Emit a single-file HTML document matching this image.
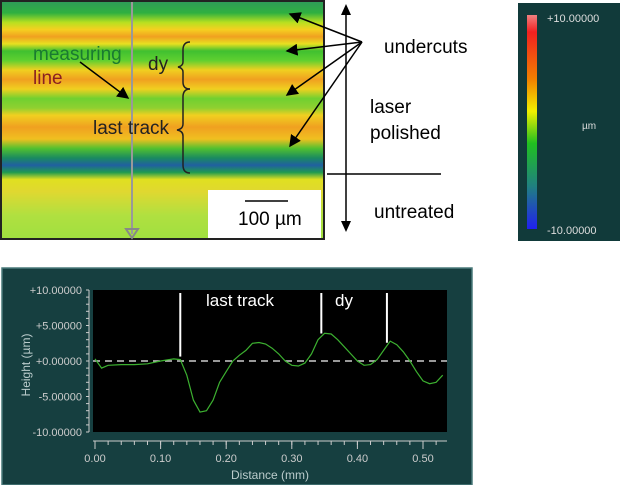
<!DOCTYPE html>
<html><head><meta charset="utf-8"><style>
html,body{margin:0;padding:0;background:#fff;width:623px;height:485px;overflow:hidden}
svg{display:block;font-family:"Liberation Sans",sans-serif}
</style></head><body>
<svg id="fig" width="623" height="485" viewBox="0 0 623 485">
<defs>
<linearGradient id="bands" x1="0" y1="0" x2="0" y2="1">
<stop offset="0" stop-color="#2f9a5a"/><stop offset="0.05" stop-color="#2fb040"/><stop offset="0.09" stop-color="#b8e020"/>
<stop offset="0.12" stop-color="#f5d020"/><stop offset="0.15" stop-color="#f0a020"/><stop offset="0.18" stop-color="#e8e020"/>
<stop offset="0.21" stop-color="#40c030"/><stop offset="0.25" stop-color="#60d030"/><stop offset="0.29" stop-color="#f0d020"/>
<stop offset="0.33" stop-color="#f0a020"/><stop offset="0.37" stop-color="#f0d020"/><stop offset="0.41" stop-color="#70d030"/>
<stop offset="0.45" stop-color="#90d030"/><stop offset="0.48" stop-color="#f0d020"/><stop offset="0.53" stop-color="#f0a020"/>
<stop offset="0.58" stop-color="#f0c020"/><stop offset="0.62" stop-color="#50c030"/><stop offset="0.66" stop-color="#1a8a60"/>
<stop offset="0.69" stop-color="#2060a0"/><stop offset="0.72" stop-color="#1f9a50"/><stop offset="0.75" stop-color="#e0e020"/>
<stop offset="0.8" stop-color="#e0d830"/><stop offset="0.9" stop-color="#b0e040"/><stop offset="1" stop-color="#a0e040"/>
</linearGradient>
<linearGradient id="cbar" x1="0" y1="0" x2="0" y2="1">
<stop offset="0" stop-color="#f08080"/><stop offset="0.08" stop-color="#f02020"/><stop offset="0.3" stop-color="#f08000"/>
<stop offset="0.45" stop-color="#f0f000"/><stop offset="0.6" stop-color="#20c020"/><stop offset="0.8" stop-color="#208080"/>
<stop offset="1" stop-color="#2020f0"/>
</linearGradient>
<marker id="ah" markerWidth="8" markerHeight="8" refX="7" refY="4" orient="auto"><path d="M0,0 L8,4 L0,8 z" fill="#000"/></marker>
</defs>

<g>
<rect x="1" y="1" width="323" height="238" fill="url(#bands)" stroke="#222" stroke-width="2"/>
<line x1="132" y1="2" x2="132" y2="234" stroke="#999" stroke-width="2"/>
<path d="M126,229 L138,229 L132,238 z" fill="none" stroke="#888" stroke-width="2"/>
<text x="33" y="60" font-size="19" fill="#1a7a30">measuring</text>
<text x="33" y="84" font-size="19" fill="#8a2020">line</text>
<line x1="80" y1="62" x2="128" y2="98" stroke="#000" stroke-width="1.5" marker-end="url(#ah)"/>
<text x="148" y="70" font-size="19" fill="#222">dy</text>
<text x="93" y="134" font-size="19" fill="#222">last track</text>
<path d="M190,42 Q183,42 183,50 L183,62 Q183,66 178,67 Q183,68 183,72 L183,82 Q183,89 190,89" fill="none" stroke="#222" stroke-width="1.5"/>
<path d="M190,89 Q183,89 183,97 L183,124 Q183,129 177,130 Q183,131 183,136 L183,165 Q183,173 190,173" fill="none" stroke="#222" stroke-width="1.5"/>
<rect x="208" y="190" width="113" height="48" fill="#fff"/>
<line x1="245" y1="201" x2="288" y2="201" stroke="#000" stroke-width="1.5"/>
<text x="238" y="225" font-size="19" fill="#000">100 µm</text>
</g>

<g>
<line x1="362" y1="42" x2="290" y2="14" stroke="#000" stroke-width="1.5" marker-end="url(#ah)"/>
<line x1="362" y1="42" x2="287" y2="51" stroke="#000" stroke-width="1.5" marker-end="url(#ah)"/>
<line x1="362" y1="42" x2="287" y2="95" stroke="#000" stroke-width="1.5" marker-end="url(#ah)"/>
<line x1="362" y1="42" x2="290" y2="146" stroke="#000" stroke-width="1.5" marker-end="url(#ah)"/>
<line x1="346" y1="14" x2="346" y2="222" stroke="#000" stroke-width="1.5"/>
<path d="M341,15 L346,4 L351,15 z" fill="#000"/><path d="M341,221 L346,232 L351,221 z" fill="#000"/>
<line x1="327" y1="174" x2="441" y2="174" stroke="#000" stroke-width="1.5"/>
<text x="384" y="53" font-size="19" fill="#000">undercuts</text>
<text x="370" y="113" font-size="19" fill="#000">laser</text>
<text x="370" y="139" font-size="19" fill="#000">polished</text>
<text x="374" y="218" font-size="19" fill="#000">untreated</text>
</g>

<g>
<rect x="518" y="3" width="102" height="238" fill="#113a3a"/>
<rect x="527" y="15" width="10" height="214" fill="url(#cbar)"/>
<text x="547" y="22" font-size="11" fill="#ddd">+10.00000</text>
<text x="582" y="129" font-size="10" fill="#ddd">µm</text>
<text x="547" y="234" font-size="11" fill="#ddd">-10.00000</text>
</g>

<g>
<rect x="2" y="268" width="470" height="217" fill="#163f40" stroke="#4a7a7a" stroke-width="1.5"/>
<rect x="93" y="290" width="354" height="142" fill="#000"/>
<g id="yax"></g>
<g id="xax"></g>
<text transform="translate(30,365) rotate(-90)" text-anchor="middle" font-size="12" fill="#bcc">Height (µm)</text>
<text x="270" y="479" text-anchor="middle" font-size="12" fill="#bcc">Distance (mm)</text>
<line id="zero" stroke="#ccc" stroke-width="1.5" stroke-dasharray="7,5"/>
<path id="curve" fill="none" stroke="#3cb030" stroke-width="1.2"/>
<g id="marks"></g>
<text x="206" y="306" font-size="17" fill="#fff">last track</text>
<text x="335" y="306" font-size="17" fill="#fff">dy</text>
</g>
</svg>
<script>
const xs=[0,0.01,0.02,0.04,0.06,0.08,0.10,0.12,0.13,0.14,0.15,0.16,0.17,0.18,0.19,0.20,0.21,0.22,0.23,0.24,0.25,0.26,0.27,0.28,0.29,0.30,0.31,0.32,0.33,0.34,0.35,0.36,0.37,0.38,0.39,0.40,0.41,0.42,0.43,0.44,0.45,0.46,0.47,0.48,0.49,0.50,0.51,0.52,0.53];
const ys=[0.3,-1,-0.6,-0.5,-0.5,-0.4,0,0.3,0.2,-2,-5.5,-7.2,-7,-5.5,-3,-1.5,0,0.8,1.5,2.5,2.6,2.4,1.8,1,0,-0.6,-0.7,-0.3,1,3,3.9,3.8,3,2,1,0,-0.6,-0.5,0.2,1.5,2.8,2.3,1.3,0,-1.5,-2.8,-3.2,-3,-2];
const yTicks=["+10.00000","+5.00000","+0.00000","-5.00000","-10.00000"];
const yTickVals=[10,5,0,-5,-10];
const xTickVals=[0,0.1,0.2,0.3,0.4,0.5];
const xTickLabels=["0.00","0.10","0.20","0.30","0.40","0.50"];
const markerXs=[0.13,0.345,0.445];
const X=v=>95+v*656, Y=v=>361-v*7.1;
const NS="http://www.w3.org/2000/svg";
function mk(t,a,p){const e=document.createElementNS(NS,t);for(const k in a)e.setAttribute(k,a[k]);p.appendChild(e);return e;}
const yax=document.getElementById('yax'),xax=document.getElementById('xax');
mk('line',{x1:89,y1:290,x2:89,y2:432,stroke:'#ccc'},yax);
for(let v=-10;v<=10;v+=1){mk('line',{x1:86,y1:Y(v),x2:89,y2:Y(v),stroke:'#ccc'},yax);}
yTickVals.forEach((v,i)=>{const t=mk('text',{x:82,y:Y(v)+4,'text-anchor':'end','font-size':11,fill:'#ccc'},yax);t.textContent=yTicks[i];

});
mk('line',{x1:93,y1:441,x2:447,y2:441,stroke:'#ccc'},xax);
for(let v=0;v<=0.53;v+=0.02){mk('line',{x1:X(v),y1:441,x2:X(v),y2:445,stroke:'#ccc'},xax);}
xTickVals.forEach((v,i)=>{mk('line',{x1:X(v),y1:441,x2:X(v),y2:449,stroke:'#ccc'},xax);const t=mk('text',{x:X(v),y:462,'text-anchor':'middle','font-size':11,fill:'#ccc'},xax);t.textContent=xTickLabels[i];

});
const z=document.getElementById('zero');z.setAttribute('x1',93);z.setAttribute('x2',447);z.setAttribute('y1',Y(0));z.setAttribute('y2',Y(0));
document.getElementById('curve').setAttribute('d',xs.map((x,i)=>(i?'L':'M')+X(x).toFixed(1)+','+Y(ys[i]).toFixed(1)).join(' '));
const marks=document.getElementById('marks');
markerXs.forEach(v=>{let yv=0;for(let i=0;i<xs.length-1;i++){if(v>=xs[i]&&v<=xs[i+1]){yv=ys[i]+(ys[i+1]-ys[i])*(v-xs[i])/(xs[i+1]-xs[i]);}}
const l=mk('line',{x1:X(v),y1:293,x2:X(v),y2:Y(yv)-3,stroke:'#fff','stroke-width':2},marks);

});
</script>
</body></html>
